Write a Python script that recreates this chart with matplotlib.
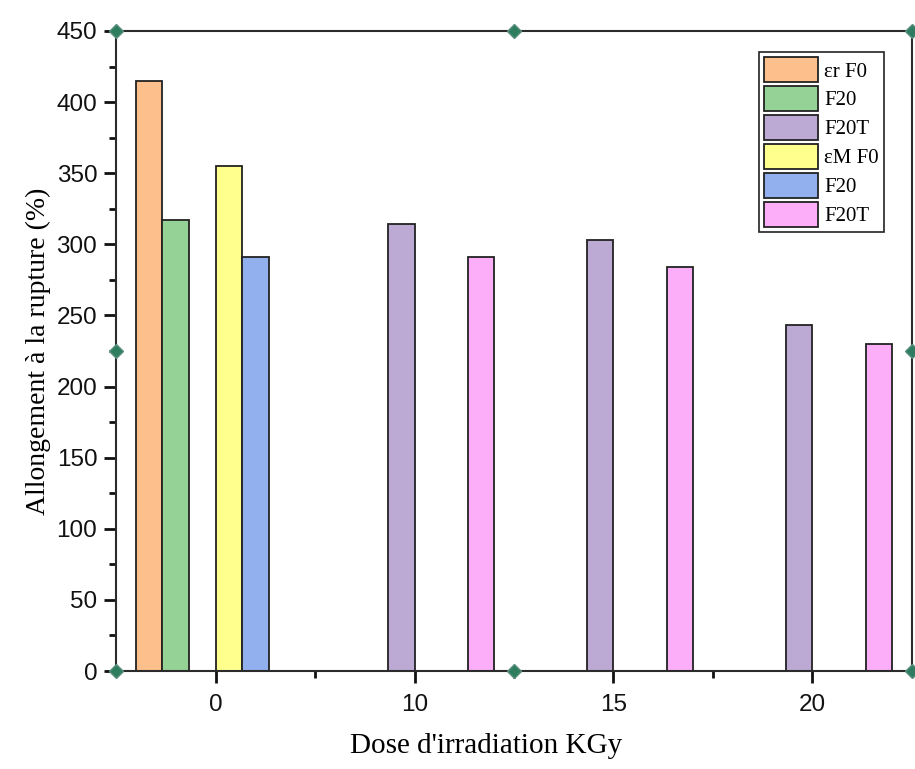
import numpy as np
import matplotlib.pyplot as plt

# Doses (KGy) and elongation at break (%) for each series
doses = ["0", "10", "15", "20"]
labels = ["\u03b5r F0", "F20", "F20T", "\u03b5M F0", "F20", "F20T"]
er_f0 = [415, np.nan, np.nan, np.nan]
er_f20 = [317, np.nan, np.nan, np.nan]
er_f20t = [np.nan, 314, 303, 243]
em_f0 = [355, np.nan, np.nan, np.nan]
em_f20 = [291, np.nan, np.nan, np.nan]
em_f20t = [np.nan, 291, 284, 230]
series = [er_f0, er_f20, er_f20t, em_f0, em_f20, em_f20t]
colors = ["#FDC08C", "#95D296", "#BDAAD4", "#FFFF8E", "#92B0EE", "#FDAEF8"]

fig = plt.figure(figsize=(9.15, 7.69), dpi=100)
ax = fig.add_axes([0.1268, 0.1274, 0.8699, 0.8323])

x = np.arange(1, len(doses) + 1)
width = 0.8 / len(series)
for i, (vals, col, lab) in enumerate(zip(series, colors, labels)):
    ax.bar(x + (i - 2.5) * width, vals, width, color=col, edgecolor="#222222",
           linewidth=1.3, label=lab)

ax.set_xlim(0.5, 4.5)
ax.set_ylim(0, 450)
ax.set_xticks(x)
ax.set_xticklabels(doses)
ax.set_xticks([1.5, 2.5, 3.5], minor=True)
ax.set_yticks(np.arange(0, 451, 50))
ax.set_yticks(np.arange(25, 450, 50), minor=True)

for t in ax.get_xticklabels() + ax.get_yticklabels():
    t.set_fontfamily("Liberation Sans")
    t.set_fontsize(17.5)

ax.tick_params(which="major", direction="out", length=8.5, width=2, pad=5, colors="#111111")
ax.tick_params(which="minor", direction="out", length=5, width=2, colors="#111111")
ax.tick_params(axis="x", which="major", pad=8)
for s in ax.spines.values():
    s.set_linewidth(1.5)
    s.set_color("#2b2b2b")

ax.set_xlabel("Dose d'irradiation KGy", family="Liberation Serif", fontsize=21)
ax.xaxis.set_label_coords(0.465, -0.097)
ax.set_ylabel("Allongement \u00e0 la rupture (%)", family="Liberation Serif", fontsize=20, labelpad=4)

leg = ax.legend(loc="upper right", bbox_to_anchor=(0.965, 0.967), frameon=True,
                fancybox=False, edgecolor="#222222", framealpha=1,
                prop={"family": "Liberation Serif", "size": 15},
                handlelength=2.6, handleheight=1.45, labelspacing=0.2,
                handletextpad=0.3, borderpad=0.25, borderaxespad=0)
leg.get_frame().set_linewidth(1.2)

# selection handles around the plot frame
hx = [0, 0.5, 1, 0, 1, 0, 0.5, 1]
hy = [1, 1, 1, 0.5, 0.5, 0, 0, 0]
ax.plot(hx, hy, "D", transform=ax.transAxes, clip_on=False, ms=7,
        color="#2e7d5e", mec="#5a8f80", zorder=5)

fig.savefig("out.png", dpi=100)
